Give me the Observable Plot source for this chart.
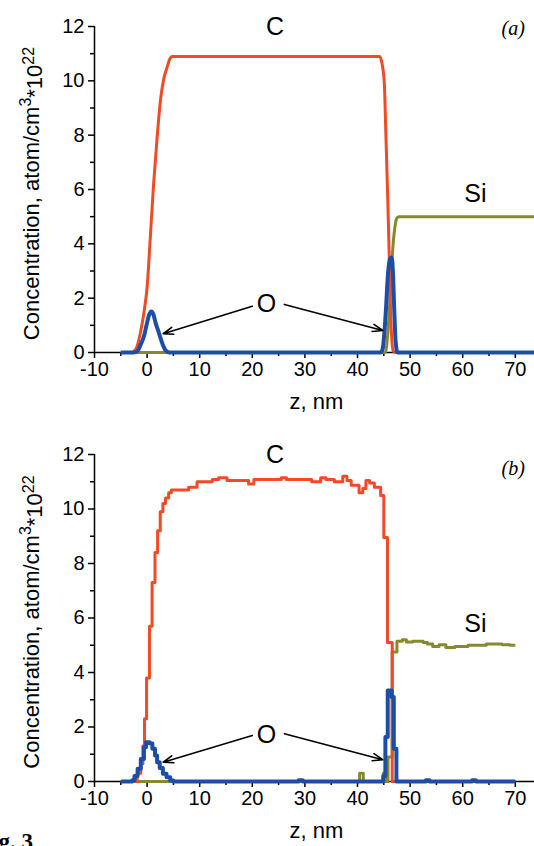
<!DOCTYPE html>
<html>
<head>
<meta charset="utf-8">
<script src="https://cdn.jsdelivr.net/npm/d3@7"></script>
<script src="https://cdn.jsdelivr.net/npm/@observablehq/plot@0.6"></script>
<style>
  html, body { margin: 0; padding: 0; background: #fff; }
  #wrap { position: relative; width: 534px; height: 846px; overflow: hidden; }
  #wrap svg { display: block; }
  #fig { position: absolute; left: -22px; top: 830px; font: bold 23px "Liberation Serif", "Times New Roman", serif; color: #000; white-space: nowrap; line-height: 1; }
</style>
</head>
<body>
<div id="wrap">
  <div id="pa"></div>
  <div id="pb"></div>
  <div id="fig">Fig. 3</div>
</div>
<script>
// ---------- axis ticks ----------
const zMajorTicks = [-10, 0, 10, 20, 30, 40, 50, 60, 70];
const zMinorTicks = [-5, 5, 15, 25, 35, 45, 55, 65];
const cMajorTicks = [0, 2, 4, 6, 8, 10, 12];
const cMinorTicks = [1, 3, 5, 7, 9, 11];
const zLabel = "z, nm";
const yLabelMain = "Concentration, atom/cm";

// ---------- panel (a): simulated profiles ----------
const aC_z  = [-5, -3, -2.2, -1.3, -0.5, 0, 0.6, 1.2, 1.9, 2.55, 3.2, 3.8, 4.3, 4.8, 44.2, 44.7, 45.1, 45.4, 45.76, 46.1, 46.4, 46.8, 47.2, 73.65];
const aC_v  = [0, 0, 0.1, 0.7, 1.6, 2.4, 4.2, 6.1, 7.9, 9.3, 10.1, 10.5, 10.8, 10.9, 10.9, 10.6, 9.9, 8.0, 5.6, 3.0, 0.9, 0.05, 0, 0];
const aSi_z = [-5, 45.3, 45.8, 46.3, 46.7, 47.1, 47.5, 47.9, 73.65];
const aSi_v = [0, 0, 0.8, 2.4, 3.8, 4.6, 4.95, 5.0, 5.0];
const aO_z  = [-5, -2.6, -1.8, -1.2, -0.6, 0, 0.4, 0.8, 1.2, 1.6, 2.2, 2.6, 3.0, 3.5, 4.2, 44.4, 44.8, 45.1, 45.4, 45.8, 46.2, 46.5, 46.75, 47.0, 47.25, 47.6, 73.65];
const aO_v  = [0, 0, 0.06, 0.3, 0.6, 1.1, 1.4, 1.51, 1.4, 1.1, 0.75, 0.5, 0.28, 0.08, 0, 0, 0.15, 0.7, 1.55, 2.9, 3.45, 3.5, 2.9, 1.5, 0.4, 0, 0];

// ---------- panel (b): measured (stepped) profiles ----------
const bC_z  = [-5, -1.9, -1.2, -0.8, -0.5, -0.1, 0.45, 0.95, 1.5, 2.0, 2.5, 3.0, 3.5, 4.1, 4.6, 7.9, 9.5, 12.4, 13.6, 15.2, 19.3, 20.3, 25.5, 26.5, 31.3, 33.0, 34.0, 35.6, 37.2, 38.0, 38.8, 40.3, 41.0, 41.6, 42.3, 43.2, 44.4, 45.0, 45.7, 46.6, 70];
const bC_v  = [0, 0.3, 0.65, 1.3, 2.3, 3.8, 5.7, 7.3, 8.4, 9.2, 9.9, 10.2, 10.4, 10.6, 10.7, 10.8, 11.0, 11.08, 11.15, 11.05, 10.92, 11.08, 11.15, 11.08, 11.0, 11.15, 11.08, 11.0, 11.2, 11.05, 10.87, 10.6, 10.75, 11.05, 10.95, 10.8, 10.5, 8.95, 5.1, 0, 0];
const bSi_z = [-5, 40.4, 41.1, 44.9, 45.3, 45.8, 46.6, 47.5, 48.5, 49.3, 50.5, 52.5, 53.3, 54.3, 55.5, 56.8, 58.5, 61.0, 64.5, 67.5, 69.0, 70];
const bSi_v = [0, 0.3, 0, 0.3, 0, 0.9, 4.75, 5.15, 5.2, 5.12, 5.15, 5.1, 5.05, 4.95, 5.02, 4.92, 4.95, 5.0, 5.05, 5.02, 5.0, 5.0];
const bO_z  = [-5, -2.8, -2.4, -1.8, -1.2, -0.6, -0.2, 0.5, 1.0, 1.5, 1.9, 2.4, 3.0, 3.7, 4.4, 5.0, 28.8, 29.6, 44.9, 45.3, 45.75, 46.5, 46.9, 47.4, 53.0, 53.7, 61.8, 62.5, 70];
const bO_v  = [0, 0.05, 0.2, 0.47, 0.83, 1.26, 1.44, 1.39, 1.2, 0.95, 0.71, 0.5, 0.28, 0.16, 0.04, 0, 0.05, 0, 0.2, 1.63, 3.34, 3.1, 1.2, 0, 0.05, 0, 0.05, 0, 0];

// ---------- annotations ----------
const colors = {C: "#f04a26", Si: "#878a2c", O: "#1d4ea6"};
const aLabels = [{t: "C", z: 24.3, v: 11.98}, {t: "Si", z: 62.4, v: 5.83}, {t: "O", z: 22.7, v: 1.77}];
const bLabels = [{t: "C", z: 24.3, v: 11.98}, {t: "Si", z: 62.4, v: 5.79}, {t: "O", z: 22.7, v: 1.72}];
const aPanel = {t: "(a)", z: 69.6, v: 11.94};
const bPanel = {t: "(b)", z: 69.6, v: 11.5};
const aArrows = [{z1: 20.0, v1: 1.70, z2: 3.06, v2: 0.69}, {z1: 26.1, v1: 1.77, z2: 44.8, v2: 0.81}];
const bArrows = [{z1: 20.0, v1: 1.69, z2: 3.06, v2: 0.71}, {z1: 26.1, v1: 1.75, z2: 44.8, v2: 0.80}];

const toRows = (zs, vs) => zs.map((z, i) => ({z, v: vs[i]}));
const sans = "'Liberation Sans', Arial, Helvetica, sans-serif";

function panel(opts) {
  const {series, curve, labels, panelTag, arrows, marginTop, marginBottom} = opts;
  const marks = [
    Plot.ruleY([0], {x1: -10, x2: 73.65, stroke: "black", strokeWidth: 1.5}),
    Plot.ruleX([-10], {y1: 0, y2: 12, stroke: "black", strokeWidth: 1.5}),
    Plot.axisX({ticks: zMajorTicks, tickSize: 6, tickPadding: 3, strokeWidth: 1.5, fontSize: 20, tickFormat: d => d < 0 ? "-" + Math.abs(d) : String(d)}),
    Plot.axisX({ticks: zMinorTicks, tickSize: 4, strokeWidth: 1.5, text: null}),
    Plot.axisY({ticks: cMajorTicks, tickSize: 6, tickPadding: 4, strokeWidth: 1.5, fontSize: 20}),
    Plot.axisY({ticks: cMinorTicks, tickSize: 4, strokeWidth: 1.5, text: null}),
    Plot.text([zLabel], {frameAnchor: "bottom", dy: 56, dx: 2, fontSize: 22, text: d => d}),
    Plot.text([yLabelMain], {frameAnchor: "left", textAnchor: "middle", dx: -63, dy: 4, rotate: -90, fontSize: 22, text: d => d, className: "ylab"})
  ];
  for (const name of ["Si", "C", "O"]) {
    marks.push(Plot.line(series[name], {x: "z", y: "v", curve, stroke: colors[name],
      strokeWidth: name === "O" ? 4 : 3, strokeLinejoin: "round", strokeLinecap: "butt"}));
  }
  marks.push(
    Plot.arrow(arrows, {x1: "z1", y1: "v1", x2: "z2", y2: "v2", stroke: "black", strokeWidth: 1.6, headLength: 10, headAngle: 40}),
    Plot.text(labels, {x: "z", y: "v", text: "t", fontSize: 25, fill: "black"}),
    Plot.text([panelTag], {x: "z", y: "v", text: "t", fontSize: 20, fontStyle: "italic", fontFamily: "'Liberation Serif', 'Times New Roman', serif", fill: "black"})
  );
  const svg = Plot.plot({
    width: 534,
    height: 423,
    marginLeft: 94,
    marginRight: 0,
    marginTop,
    marginBottom,
    style: {fontFamily: sans, fontSize: "20px", color: "black", background: "white", overflow: "visible"},
    x: {domain: [-10, 73.65]},
    y: {domain: [0, 12]},
    marks
  });
  d3.select(svg).selectAll(".ylab text").each(function () {
    const t = d3.select(this);
    t.text(null);
    t.append("tspan").text(yLabelMain);
    t.append("tspan").attr("dy", "-0.5em").attr("font-size", "16px").text("3");
    t.append("tspan").attr("dy", "0.5em").text("*10");
    t.append("tspan").attr("dy", "-0.5em").attr("font-size", "16px").text("22");
  });
  return svg;
}

const seriesA = {C: toRows(aC_z, aC_v), Si: toRows(aSi_z, aSi_v), O: toRows(aO_z, aO_v)};
const seriesB = {C: toRows(bC_z, bC_v), Si: toRows(bSi_z, bSi_v), O: toRows(bO_z, bO_v)};

document.getElementById("pa").appendChild(panel({series: seriesA, curve: "monotone-x", labels: aLabels, panelTag: aPanel, arrows: aArrows, marginTop: 26, marginBottom: 71}));
document.getElementById("pb").appendChild(panel({series: seriesB, curve: "step-after", labels: bLabels, panelTag: bPanel, arrows: bArrows, marginTop: 31, marginBottom: 65}));
</script>
</body>
</html>
